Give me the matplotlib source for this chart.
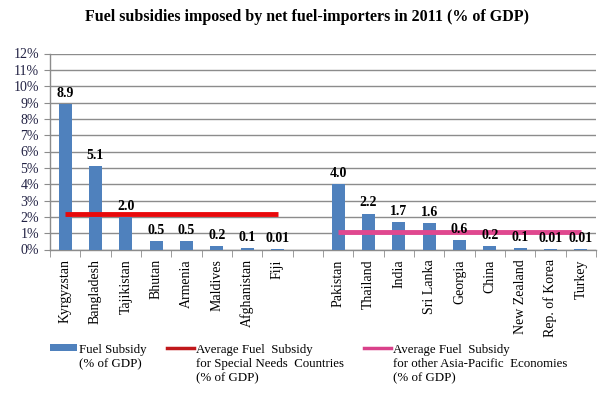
import matplotlib
matplotlib.use("Agg")
import matplotlib.pyplot as plt
import numpy as np
from matplotlib.lines import Line2D
from matplotlib.patches import Patch
from matplotlib.ticker import FuncFormatter

plt.rcParams['font.family'] = ['Liberation Serif', 'DejaVu Serif']

special_countries = ["Kyrgyzstan", "Bangladesh", "Tajikistan", "Bhutan", "Armenia",
                     "Maldives", "Afghanistan", "Fiji"]
special_values = [8.9, 5.1, 2.0, 0.5, 0.5, 0.2, 0.1, 0.01]
special_labels = ["8.9", "5.1", "2.0", "0.5", "0.5", "0.2", "0.1", "0.01"]

other_countries = ["Pakistan", "Thailand", "India", "Sri Lanka", "Georgia", "China",
                   "New Zealand", "Rep. of Korea", "Turkey"]
other_values = [4.0, 2.2, 1.7, 1.6, 0.6, 0.2, 0.1, 0.01, 0.01]
other_labels = ["4.0", "2.2", "1.7", "1.6", "0.6", "0.2", "0.1", "0.01", "0.01"]

avg_special = 2.2
avg_other = 1.1

title = "Fuel subsidies imposed by net fuel-importers in 2011 (% of GDP)"
legend_labels = ["Fuel Subsidy\n(% of GDP)",
                 "Average Fuel  Subsidy\nfor Special Needs  Countries\n(% of GDP)",
                 "Average Fuel  Subsidy\nfor other Asia-Pacific  Economies\n(% of GDP)"]

bar_color = "#4F81BD"
red = "#E8090B"
pink = "#E0488F"
grid_color = "#8C8C8C"

fig = plt.figure(figsize=(6.16, 3.98), dpi=100)
ax = fig.add_axes([50 / 616, 1 - 249.5 / 398, (596 - 50) / 616, (249.5 - 53.5) / 398])

x_special = np.arange(len(special_countries))
x_other = np.arange(len(other_countries)) + len(special_countries) + 1
n_slots = len(special_countries) + 1 + len(other_countries)

w = 0.42
ax.bar(x_special, special_values, width=w, color=bar_color, zorder=3)
ax.bar(x_other, other_values, width=w, color=bar_color, zorder=3)

ax.plot([x_special[0], x_special[-1]], [avg_special] * 2, color=red, lw=3.5,
        solid_capstyle='butt', zorder=4)
ax.plot([x_other[0], x_other[-1]], [avg_other] * 2, color=pink, lw=3.5,
        solid_capstyle='butt', zorder=4)

for xs, vs, ls in [(x_special, special_values, special_labels),
                   (x_other, other_values, other_labels)]:
    for x, v, l in zip(xs, vs, ls):
        ax.annotate(l, (x, v), xytext=(0, 3), textcoords='offset points',
                    ha='center', va='bottom', fontsize=10, fontweight='bold', zorder=5)

ax.set_xlim(-0.5, n_slots - 0.5)
ax.set_ylim(0, 12)
ax.set_yticks(np.arange(0, 13, 1))
ax.yaxis.set_major_formatter(FuncFormatter(lambda v, p: f"{int(v)}%"))
ax.grid(axis='y', color=grid_color, lw=1, zorder=0)
ax.set_axisbelow(True)

ax.set_xticks(list(x_special) + list(x_other))
ax.set_xticklabels(special_countries + other_countries, rotation=90, fontsize=10)
ax.set_xticks(np.arange(-0.5, n_slots, 1), minor=True)
ax.tick_params(axis='x', which='major', length=0, pad=7)
ax.tick_params(axis='x', which='minor', length=5, color=grid_color, direction='out')
ax.tick_params(axis='y', length=4, color=grid_color, labelsize=10, pad=4,
               labelcolor='#222244')

for s in ['top', 'right']:
    ax.spines[s].set_visible(False)
for s in ['left', 'bottom']:
    ax.spines[s].set_color(grid_color)
    ax.spines[s].set_linewidth(1)

fig.text(307 / 616, 1 - 17 / 398, title, ha='center', va='center',
         fontsize=11.5, fontweight='bold')

handles = [Patch(facecolor=bar_color, edgecolor='none'),
           Line2D([], [], color="#C0181B", lw=2.5),
           Line2D([], [], color="#D9418A", lw=2.5)]
leg = fig.legend(handles, legend_labels, loc='upper left',
                 bbox_to_anchor=(50 / 616, 1 - 344 / 398), ncol=3, frameon=False,
                 fontsize=9.3, handlelength=2.1, handleheight=0.45, handletextpad=0.15,
                 columnspacing=1.55, borderaxespad=0, borderpad=0, labelspacing=0)
leg._legend_handle_box.align = 'top'
for col in leg._legend_handle_box.get_children():
    col.align = 'left'
    for row in col.get_children():
        row.align = 'top'
for t in leg.get_texts():
    t.set_linespacing(1.25)

fig.savefig("out.png", dpi=100)
